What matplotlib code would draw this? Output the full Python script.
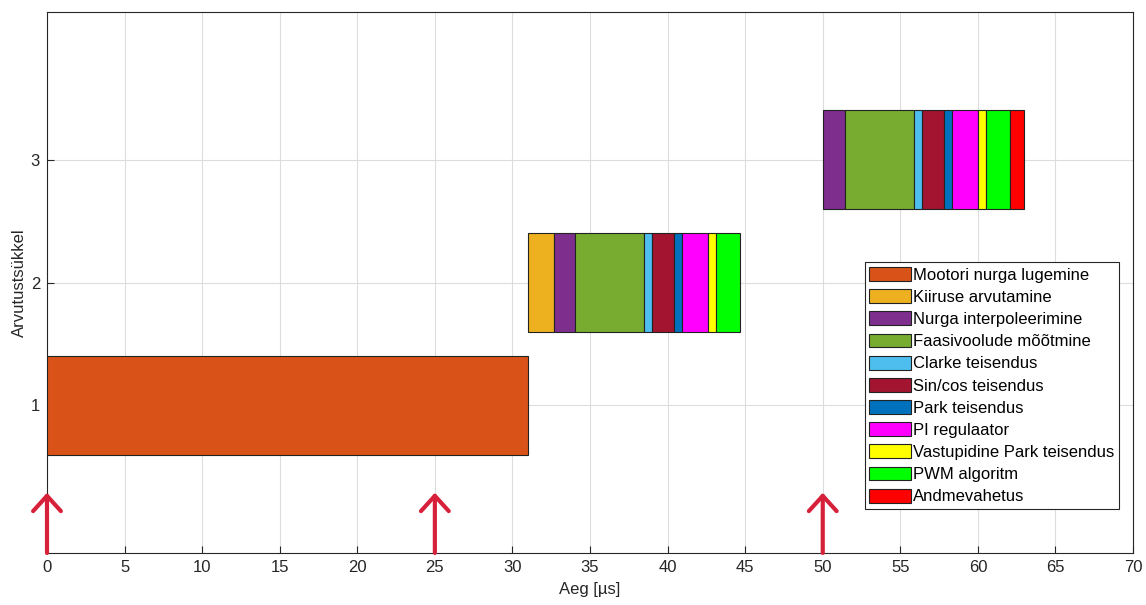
import matplotlib
matplotlib.use('Agg')
import matplotlib.pyplot as plt
from matplotlib.patches import Patch

plt.rcParams['font.family'] = ['Liberation Sans', 'DejaVu Sans']

tasks = ['Mootori nurga lugemine', 'Kiiruse arvutamine', 'Nurga interpoleerimine',
         'Faasivoolude mõõtmine', 'Clarke teisendus', 'Sin/cos teisendus',
         'Park teisendus', 'PI regulaator', 'Vastupidine Park teisendus',
         'PWM algoritm', 'Andmevahetus']
colors = ['#D95319', '#EDB120', '#7E2F8E', '#77AC30', '#4DBEEE', '#A2142F',
          '#0072BD', '#FF00FF', '#FFFF00', '#00FF00', '#FF0000']

# cycle number, start time, task indices, durations [us]
cycle_nr = [1, 2, 3]
cycle_start = [0, 31.0, 50.0]
cycle_tasks = [[0],
               [1, 2, 3, 4, 5, 6, 7, 8, 9],
               [2, 3, 4, 5, 6, 7, 8, 9, 10]]
cycle_durations = [[31.0],
                   [1.7, 1.3, 4.5, 0.5, 1.4, 0.5, 1.7, 0.5, 1.55],
                   [1.45, 4.45, 0.5, 1.4, 0.5, 1.7, 0.5, 1.6, 0.9]]

interrupts = [0, 25, 50]

fig = plt.figure(figsize=(11.46, 6.05), dpi=100)
ax = fig.add_axes([0.041, 0.086, 0.9477, 0.894])

for cyc, t0, tk, du in zip(cycle_nr, cycle_start, cycle_tasks, cycle_durations):
    ax.barh([cyc] * len(du), du, left=[t0 + sum(du[:i]) for i in range(len(du))],
            height=0.8, color=[colors[i] for i in tk], edgecolor='#222222',
            linewidth=0.8, zorder=3)

for t in interrupts:
    ax.annotate('', xy=(t, 0.29), xytext=(t, -0.2),
                arrowprops=dict(arrowstyle='->,head_length=1.1,head_width=1.0',
                                color='#D7213A', lw=3, shrinkA=0, shrinkB=0),
                zorder=5, annotation_clip=False)

ax.set_xlim(0, 70)
ax.set_ylim(-0.2, 4.2)
ax.set_xticks(range(0, 71, 5))
ax.set_yticks([1, 2, 3])
ax.tick_params(direction='in', labelsize=12, colors='#262626', length=5, pad=5)
ax.grid(True, color='#dddddd', linewidth=0.8, zorder=0)
ax.set_axisbelow(True)
for s in ax.spines.values():
    s.set_color('#262626')
    s.set_linewidth(0.8)
ax.set_xlabel('Aeg [µs]', fontsize=12, color='#262626', labelpad=5)
ax.set_ylabel('Arvutustsükkel', fontsize=12, color='#262626', labelpad=3)

handles = [Patch(facecolor=c, edgecolor='#222222', linewidth=0.8) for c in colors]
leg = ax.legend(handles, tasks, loc='lower right', bbox_to_anchor=(0.987, 0.081),
                fontsize=12, handlelength=2.5, handleheight=0.9, labelspacing=0.39,
                handletextpad=0.12, borderpad=0.28, borderaxespad=0, fancybox=False,
                framealpha=1, edgecolor='#262626')
leg.get_frame().set_linewidth(0.8)

fig.savefig('out.png', dpi=100)
